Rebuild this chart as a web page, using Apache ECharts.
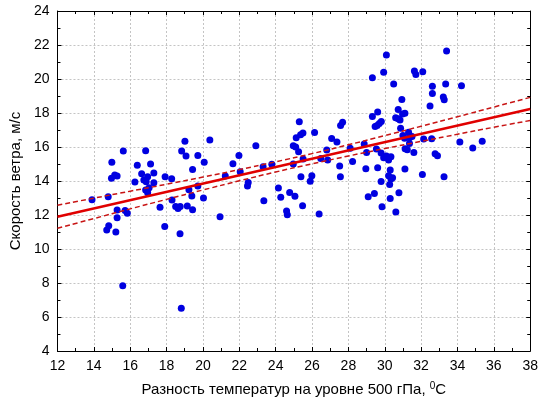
<!DOCTYPE html>
<html>
<head>
<meta charset="utf-8">
<script src="https://cdn.jsdelivr.net/npm/echarts@6/dist/echarts.min.js"></script>
<style>
  html, body { margin: 0; padding: 0; background: #fff; }
  #chart { width: 541px; height: 403px; }
</style>
</head>
<body>
<div id="chart"></div>
<script>
// Observations: temperature difference at 500 hPa (°C) vs wind speed (m/s)
const tempDiff = [
  13.9, 14.79, 14.97, 14.99, 15.15, 15.28, 15.62, 15.28, 15.72, 15.84, 15.28, 14.82, 14.71, 15.21, 15.59,
  16.26, 16.39, 16.63, 16.75, 16.88, 16.85, 16.96, 17.12, 17.3, 17.3, 16.85, 16.96, 17.04, 17.92, 18.28,
  17.64, 17.9, 18.3,
  18.5, 18.63, 18.75, 18.74, 18.81, 18.83, 19.01, 19.07, 19.14, 19.23, 19.39, 19.43, 19.43, 19.72, 19.72,
  20.03, 20.07, 20.38, 20.94, 21.23, 21.65, 21.98, 22.05,
  22.45, 22.49, 22.91, 23.31, 23.35, 23.79, 24.15, 24.28, 24.6, 24.64, 24.77, 24.97, 24.97, 25.06, 25.1,
  25.13, 25.26, 25.3, 25.37, 25.39, 25.48, 25.5, 25.51, 25.9, 25.99, 26.14, 26.39, 26.48, 26.81, 26.86,
  27.08, 27.37, 27.52, 27.56, 27.57, 27.68, 28.1, 28.23, 28.87, 28.96, 29.0, 29.09, 29.32, 29.32, 29.43,
  29.47, 29.54, 29.58, 29.61, 29.61, 29.7, 29.81, 29.8, 29.85, 29.8, 29.94, 29.94,
  30.09, 30.09, 30.21, 30.34, 30.3, 30.21, 30.34, 30.43, 30.27, 30.3, 30.49, 30.6, 30.74, 30.84, 30.74,
  30.94, 30.98, 31.11, 30.87, 30.61, 30.78, 31.0, 31.31, 31.09, 31.36, 31.5, 31.36, 31.11, 31.12, 31.24,
  31.6, 31.63, 31.71, 32.09, 32.14, 32.58, 32.07, 32.49, 32.62, 32.62, 32.77, 32.9, 33.22, 33.27, 33.26,
  33.35, 33.4, 34.22, 34.13, 34.84, 35.36
];
const windSpeed = [
  12.9, 13.08, 14.16, 15.1, 14.35, 14.29, 15.76, 12.29, 12.27, 12.1, 11.84, 11.37, 11.12, 11.0, 7.84,
  13.94, 14.92, 14.43, 14.06, 13.96, 15.78, 14.25, 15.0, 14.47, 13.9, 13.47, 13.31, 13.6, 14.25, 14.13,
  12.45, 11.33, 12.88,
  12.5, 12.38, 12.5, 10.9, 6.51, 15.76, 16.34, 15.47, 12.53, 13.49, 13.12, 14.68, 12.31, 15.5, 13.71,
  13.0, 15.1, 16.41, 11.9, 14.29, 15.02, 15.5, 14.55,
  13.71, 13.91, 16.08, 14.84, 12.84, 14.98, 13.59, 13.04, 12.24, 12.02, 13.33, 15.0, 16.08, 13.1, 16.0,
  16.55, 15.72, 17.49, 16.72, 14.25, 12.55, 16.82, 15.29, 13.98, 14.31, 16.86, 12.06, 15.33, 15.82, 15.24,
  16.5, 16.29, 14.88, 14.25, 17.27, 17.45, 15.92, 15.14, 16.18, 14.72, 15.67, 13.08, 20.08, 17.8, 13.27,
  17.2, 15.88, 17.27, 18.06, 14.78, 17.38, 17.5, 13.97, 12.49, 15.65, 20.39, 15.37,
  21.41, 15.47, 15.24, 15.43, 14.65, 14.31, 14.12, 14.19, 13.8, 12.97, 19.71, 17.72, 17.66, 17.59, 18.21,
  18.8, 17.94, 17.98, 17.1, 12.18, 13.31, 16.67, 16.87, 16.51, 16.55, 16.62, 16.2, 14.71, 15.9, 15.84,
  15.67, 20.47, 20.27, 20.43, 16.47, 16.49, 14.38, 18.41, 19.57, 19.14, 15.6, 15.48, 18.94, 18.78, 14.25,
  19.71, 21.65, 19.61, 16.3, 15.94, 16.34
];

// Linear fit and its 95% confidence band
const fitX = [12, 38];
const fitY = [11.9, 18.24];
const bandX = [12, 14, 16, 18, 20, 22, 24, 26, 28, 30, 32, 34, 36, 38];
const bandUpper = [12.58, 12.99, 13.40, 13.81, 14.23, 14.67, 15.13, 15.61, 16.13, 16.67, 17.22, 17.78, 18.35, 18.92];
const bandLower = [11.22, 11.79, 12.36, 12.92, 13.47, 14.01, 14.53, 15.01, 15.47, 15.91, 16.33, 16.75, 17.16, 17.56];

const xTitle = 'Разность температур на уровне 500 гПа, ';
const yTitle = 'Скорость ветра, м/с';

const zip = (a, b) => a.map((v, i) => [v, b[i]]);

const font = 'Liberation Sans, Arial, sans-serif';
const tickInside = { show: true, inside: true, length: 4, lineStyle: { color: '#000' } };
const minorInside = { show: true, splitNumber: 2, length: 3, lineStyle: { color: '#000' } };
const gridLine = { show: true, lineStyle: { color: '#c4c4c4', type: [2, 2], width: 1 } };
const blackLine = { show: true, onZero: false, lineStyle: { color: '#000', width: 1 } };

const chart = echarts.init(document.getElementById('chart'), null, { renderer: 'canvas' });
chart.setOption({
  animation: false,
  backgroundColor: '#fff',
  grid: { left: 56, right: 9, top: 11, bottom: 52 },
  xAxis: [
    {
      type: 'value', min: 12, max: 38, interval: 2, position: 'bottom',
      axisLine: blackLine, axisTick: tickInside, minorTick: minorInside,
      splitLine: gridLine,
      axisLabel: { color: '#000', fontFamily: font, fontSize: 14, margin: 8 },
      name: '{t|' + xTitle + '}{s|0}{t|C}',
      nameLocation: 'middle', nameGap: 30,
      nameTextStyle: {
        rich: {
          t: { fontFamily: font, fontSize: 15, color: '#000' },
          s: { fontFamily: font, fontSize: 10, color: '#000', verticalAlign: 'top', padding: [0, 0, 8, 0] }
        }
      }
    },
    {
      type: 'value', min: 12, max: 38, interval: 2, position: 'top',
      axisLine: blackLine, axisTick: tickInside, minorTick: minorInside,
      splitLine: { show: false }, axisLabel: { show: false }
    }
  ],
  yAxis: [
    {
      type: 'value', min: 4, max: 24, interval: 2, position: 'left',
      axisLine: blackLine, axisTick: tickInside, minorTick: minorInside,
      splitLine: gridLine,
      axisLabel: { color: '#000', fontFamily: font, fontSize: 14, margin: 8 },
      name: yTitle, nameLocation: 'middle', nameGap: 32, nameRotate: 90,
      nameTextStyle: { fontFamily: font, fontSize: 15, color: '#000' }
    },
    {
      type: 'value', min: 4, max: 24, interval: 2, position: 'right',
      axisLine: blackLine, axisTick: tickInside, minorTick: minorInside,
      splitLine: { show: false }, axisLabel: { show: false }
    }
  ],
  series: [
    {
      type: 'scatter', data: zip(tempDiff, windSpeed),
      symbol: 'circle', symbolSize: 7,
      itemStyle: { color: '#0000e0', opacity: 1 }, z: 2
    },
    {
      type: 'line', data: zip(bandX, bandUpper), smooth: true, symbol: 'none',
      lineStyle: { color: '#c81414', width: 1.5, type: [5, 3] }, z: 3
    },
    {
      type: 'line', data: zip(bandX, bandLower), smooth: true, symbol: 'none',
      lineStyle: { color: '#c81414', width: 1.5, type: [5, 3] }, z: 3
    },
    {
      type: 'line', data: zip(fitX, fitY), symbol: 'none',
      lineStyle: { color: '#e00000', width: 2.5 }, z: 4
    }
  ]
});
</script>
</body>
</html>
